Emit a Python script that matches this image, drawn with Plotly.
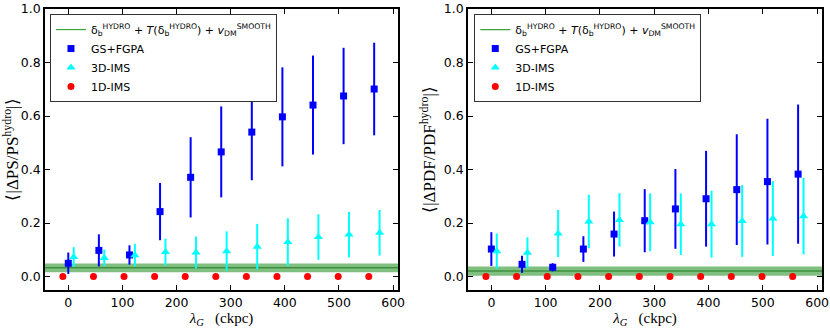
import plotly.graph_objects as go

# lambda_G grid (ckpc); the three methods are drawn slightly shifted
lam = [0, 56.5, 113, 169.5, 226, 282.5, 339, 395.5, 452, 508.5, 565]
shift = 10

# left panel: <|dPS/PS^hydro|>
ps_gs = [0.050, 0.098, 0.081, 0.243, 0.371, 0.466, 0.540, 0.597, 0.641, 0.675, 0.701]
ps_gs_err = [0.040, 0.060, 0.036, 0.107, 0.150, 0.170, 0.180, 0.185, 0.185, 0.180, 0.173]
ps_3d = [0.073, 0.070, 0.080, 0.092, 0.090, 0.095, 0.112, 0.129, 0.148, 0.157, 0.164]
ps_3d_err = [0.037, 0.031, 0.042, 0.050, 0.060, 0.074, 0.085, 0.089, 0.085, 0.085, 0.085]
ps_1d = [0.0] * 11
ps_1d_err = [0.002] * 11
ps_hydro = 0.033
ps_hydro_lo, ps_hydro_hi = 0.016, 0.049

# right panel: <|dPDF/PDF^hydro|>
pdf_gs = [0.103, 0.046, 0.035, 0.103, 0.159, 0.209, 0.253, 0.291, 0.325, 0.355, 0.383]
pdf_gs_err = [0.063, 0.032, 0.015, 0.048, 0.084, 0.118, 0.149, 0.179, 0.207, 0.235, 0.260]
pdf_3d = [0.095, 0.089, 0.161, 0.206, 0.212, 0.203, 0.196, 0.196, 0.208, 0.217, 0.226]
pdf_3d_err = [0.066, 0.058, 0.088, 0.100, 0.100, 0.108, 0.115, 0.125, 0.134, 0.140, 0.143]
pdf_1d = [0.0] * 11
pdf_1d_err = [0.002] * 11
pdf_hydro = 0.021
pdf_hydro_lo, pdf_hydro_hi = 0.003, 0.038

hydro_name = ("δ<sub>b</sub><sup>HYDRO</sup> + <i>T</i>(δ<sub>b</sub><sup>HYDRO</sup>)"
              " + <i>v</i><sub>DM</sub><sup>SMOOTH</sup>")

fig = go.Figure()

panels = [
    ("x", "y", "legend", ps_gs, ps_gs_err, ps_3d, ps_3d_err, ps_1d, ps_1d_err,
     ps_hydro, ps_hydro_lo, ps_hydro_hi),
    ("x2", "y2", "legend2", pdf_gs, pdf_gs_err, pdf_3d, pdf_3d_err, pdf_1d, pdf_1d_err,
     pdf_hydro, pdf_hydro_lo, pdf_hydro_hi),
]

for xa, ya, leg, gs, gs_e, d3, d3_e, d1, d1_e, hy, hy_lo, hy_hi in panels:
    # legend entry for the hydro band line
    fig.add_trace(go.Scatter(
        x=[None], y=[None], mode="lines", name=hydro_name,
        line=dict(color="#3aa63a", width=1.2), xaxis=xa, yaxis=ya, legend=leg))
    fig.add_trace(go.Scatter(
        x=lam, y=gs, mode="markers", name="GS+FGPA",
        marker=dict(symbol="square", size=7, color="#0000ff"),
        error_y=dict(type="data", array=gs_e, color="#0000ff", thickness=2, width=0),
        xaxis=xa, yaxis=ya, legend=leg))
    fig.add_trace(go.Scatter(
        x=[v + shift for v in lam], y=d3, mode="markers", name="3D-IMS",
        marker=dict(symbol="triangle-up", size=8, color="#00ffff"),
        error_y=dict(type="data", array=d3_e, color="#00ffff", thickness=2, width=0),
        xaxis=xa, yaxis=ya, legend=leg))
    fig.add_trace(go.Scatter(
        x=[v - shift for v in lam], y=d1, mode="markers", name="1D-IMS",
        marker=dict(symbol="circle", size=7, color="#ff0000"),
        error_y=dict(type="data", array=d1_e, color="#ff0000", thickness=2, width=0),
        xaxis=xa, yaxis=ya, legend=leg))

    # hydro reference band and line
    fig.add_shape(type="rect", xref=f"{xa} domain", yref=ya, x0=0, x1=1,
                  y0=hy_lo, y1=hy_hi, fillcolor="rgba(0,128,0,0.5)",
                  line=dict(width=0), layer="below")
    fig.add_shape(type="line", xref=f"{xa} domain", yref=ya, x0=0, x1=1,
                  y0=hy, y1=hy, line=dict(color="#1f7a1f", width=1), layer="below")

axis_common = dict(
    showgrid=False, zeroline=False, showline=True, linecolor="black", linewidth=1.5,
    mirror="allticks", ticks="inside", ticklen=5, tickwidth=1.2, tickcolor="black",
    tickfont=dict(family="DejaVu Sans", size=12.5, color="black"), automargin=False,
)
ytitle_font = dict(family="Liberation Serif", size=17, color="black")
xtitle_font = dict(family="Liberation Serif", size=15, color="black")
xlabel = "<i>λ</i><sub><i>G</i></sub>\u00a0\u00a0\u00a0(ckpc)"

fig.update_layout(
    width=830, height=328,
    margin=dict(l=45, r=8, t=9, b=38),
    plot_bgcolor="white", paper_bgcolor="white",
    xaxis=dict(domain=[0, 0.4543], range=[-43, 609], dtick=100, tick0=0,
               title=dict(text=xlabel, font=xtitle_font, standoff=2), **axis_common),
    xaxis2=dict(domain=[0.5444, 1], range=[-43, 609], dtick=100, tick0=0,
                title=dict(text=xlabel, font=xtitle_font, standoff=2), **axis_common),
    yaxis=dict(range=[-0.05, 1.0], dtick=0.2, tick0=0, tickformat=".1f",
               title=dict(text="⟨|ΔPS/PS<sup>hydro</sup>|⟩", font=ytitle_font, standoff=4),
               **axis_common),
    yaxis2=dict(range=[-0.05, 1.0], dtick=0.2, tick0=0, tickformat=".1f", anchor="x2",
                title=dict(text="⟨|ΔPDF/PDF<sup>hydro</sup>|⟩", font=ytitle_font, standoff=4),
                **axis_common),
    legend=dict(x=0.0064, y=0.982, xanchor="left", yanchor="top",
                bgcolor="white", bordercolor="#333333", borderwidth=1,
                font=dict(family="DejaVu Sans", size=11, color="black"),
                tracegroupgap=0, itemwidth=30),
    legend2=dict(x=0.5525, y=0.982, xanchor="left", yanchor="top",
                 bgcolor="white", bordercolor="#333333", borderwidth=1,
                 font=dict(family="DejaVu Sans", size=11, color="black"),
                 tracegroupgap=0, itemwidth=30),
)
fig.update_layout(xaxis2_anchor="y2")

# drop the default page margin so the figure sits at the window's corner
fig.write_html("out.html", config={"displayModeBar": False},
               post_script="document.body.style.margin='0';")
